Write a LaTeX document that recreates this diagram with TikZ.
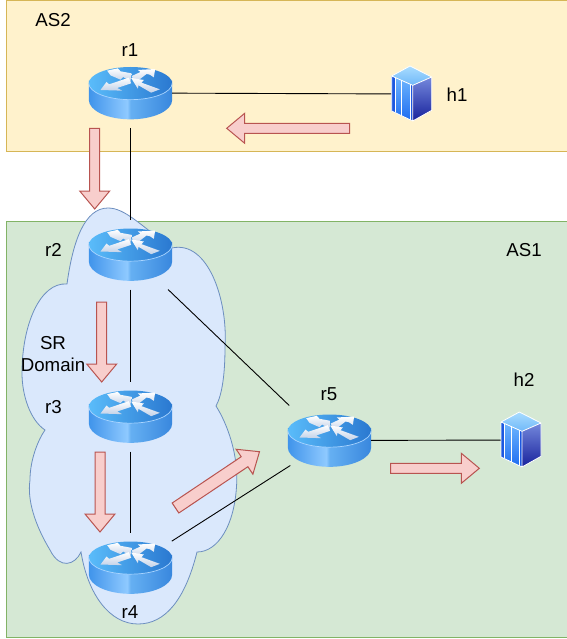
\documentclass[tikz,border=0pt]{standalone}
\usepackage{fontspec}
\usetikzlibrary{calc}
\setmainfont{Liberation Sans}
\definecolor{asyellow}{HTML}{FFF2CC}
\definecolor{asyellowl}{HTML}{D6B656}
\definecolor{asgreen}{HTML}{D5E8D4}
\definecolor{asgreenl}{HTML}{82B366}
\definecolor{cloudf}{HTML}{DAE8FC}
\definecolor{cloudl}{HTML}{6C8EBF}
\definecolor{arrf}{HTML}{F8CECC}
\definecolor{arrl}{HTML}{B85450}
\definecolor{rtopl}{HTML}{5ABCFA}
\definecolor{rtopr}{HTML}{2A78D0}
\definecolor{rrim}{HTML}{A8D4FF}
\definecolor{warrb}{HTML}{C4D2E8}
\definecolor{stop}{HTML}{A8DCFF}
\definecolor{sbot}{HTML}{70B8F8}
\definecolor{sltop}{HTML}{70B8FF}
\definecolor{slbot}{HTML}{1E6CF0}
\definecolor{srtop}{HTML}{7488DC}
\definecolor{srbot}{HTML}{18229C}
\definecolor{sdark}{HTML}{1C58E0}
\pgfdeclarehorizontalshading{routerside}{100bp}{rgb(0bp)=(0.25,0.58,0.92); rgb(25bp)=(0.25,0.58,0.92); rgb(48bp)=(0.56,0.79,1); rgb(50bp)=(0.40,0.69,0.95); rgb(75bp)=(0.22,0.53,0.87); rgb(100bp)=(0.22,0.53,0.87)}
\tikzset{
  x=1pt,y=-1pt,
  box/.style={line width=1pt},
  label/.style={font=\fontsize{18.7}{22}\selectfont,text=black,inner sep=0pt,align=center},
  link/.style={line width=0.9pt,black},
  routerbox/.style={minimum width=83pt,minimum height=70pt,inner sep=0pt,outer sep=0pt},
  serverbox/.style={minimum width=41pt,minimum height=56pt,inner sep=0pt,outer sep=0pt},
  bigarrow/.style={fill=arrf,draw=arrl,line width=1pt,line join=miter},
  warr/.style={top color=white,bottom color=warrb,draw=none},
  pics/routericon/.style={code={
    \begin{scope}[shift={(-70,-43)},scale=1/3]
      \path[shading=routerside] (85,92) -- (85,150) arc[start angle=180,end angle=0,x radius=125,y radius=58] -- (335,92) -- cycle;
      \path[left color=rtopl,right color=rtopr] (210,100) ellipse[x radius=125,y radius=49];
      \draw[rrim,line width=0.7pt] (85,100) arc[start angle=180,end angle=0,x radius=125,y radius=49];
      \path[warr] (140,62)--(172,55)--(180,64)--(213,70)--(210,94)--(188,81)--(180,89)--(150,76)--cycle;
      \path[warr] (120,120)--(138,96)--(146,103)--(205,83)--(212,100)--(170,114)--(185,122)--cycle;
      \path[warr] (214,78)--(240,66)--(232,60)--(284,57)--(280,82)--(268,74)--(258,72)--(222,100)--cycle;
      \path[warr] (212,84)--(250,90)--(243,98)--(298,118)--(272,128)--(234,106)--(232,116)--cycle;
    \end{scope}}},
  pics/servericon/.style={code={
    \begin{scope}[shift={(-41.67,-43)},scale=1/3]
      \path[top color=stop,bottom color=sbot] (120,45)--(185,78)--(128,103)--(65,75)--cycle;
      \path[top color=sltop,bottom color=slbot] (65,75)--(128,103)--(128,210)--(65,180)--cycle;
      \path[fill=sdark] (65,75)--(75,80)--(75,184)--(65,180)--cycle (120,100)--(128,103)--(128,210)--(120,206)--cycle;
      \path[top color=srtop,bottom color=srbot] (128,103)--(185,78)--(185,178)--(128,210)--cycle;
      \draw[white,line width=0.8pt,line join=round] (120,45)--(185,78)--(185,178)--(128,210)--(65,180)--(65,75)--cycle (65,75)--(128,103)--(128,210) (185,78)--(128,103);
      \draw[white,line width=0.8pt] (75,80)--(75,184) (95,88)--(95,194) (120,100)--(120,206);
    \end{scope}}},
}
\newcommand{\routerat}[2]{\node[routerbox] (#1) at (#2) {}; \pic at (#2) {routericon};}
\newcommand{\serverat}[2]{\node[serverbox] (#1) at (#2) {}; \pic at (#2) {servericon};}
% tail, tip, half shaft, half head, head length
\newcommand{\blockarrow}[5]{%
  \path let \p1=(#1),\p2=(#2),\n1={atan2(\y2-\y1,\x2-\x1)},\n2={veclen(\x2-\x1,\y2-\y1)} in
  [bigarrow,shift={(\x1,\y1)},rotate=\n1]
  (0pt,-#3pt)--({\n2-#5pt},-#3pt)--({\n2-#5pt},-#4pt)--(\n2,0pt)--({\n2-#5pt},#4pt)--({\n2-#5pt},#3pt)--(0pt,#3pt)--cycle;}
\begin{document}
\begin{tikzpicture}
\useasboundingbox (0,0) rectangle (566,639);
\draw[box,fill=asyellow,draw=asyellowl] (6.5,0.5) rectangle (570,151.5);
\draw[box,fill=asgreen,draw=asgreenl] (6.5,221.5) rectangle (570,637.5);
\draw[fill=cloudf,draw=cloudl,line width=0.8pt]
  (67,284) .. controls (73,240) and (85,208) .. (108,208)
  .. controls (125,208) and (140,225) .. (172,248)
  .. controls (208,240) and (228,300) .. (225,347)
  .. controls (225,375) and (222,395) .. (216,406)
  .. controls (228,425) and (238,455) .. (236.7,483)
  .. controls (235,525) and (218,552) .. (197,552)
  .. controls (185,600) and (165,624) .. (138,624)
  .. controls (110,624) and (88,595) .. (81,552)
  .. controls (75,565) and (60,570) .. (50,550)
  .. controls (35,525) and (27,500) .. (30,480)
  .. controls (30,460) and (38,440) .. (45,430)
  .. controls (30,420) and (22,395) .. (22,373)
  .. controls (22,325) and (40,282) .. (67,284) -- cycle;
\routerat{r1}{130.5,93}
\routerat{r2}{130.5,254.5}
\routerat{r3}{130.5,416.5}
\routerat{r4}{130.5,567.5}
\routerat{r5}{329.5,440.5}
\serverat{h1}{411.7,94}
\serverat{h2}{521,440}
\draw[link] (r1) -- (h1);
\draw[link] (r1) -- (r2);
\draw[link] (r2) -- (r3);
\draw[link] (r3) -- (r4);
\draw[link] (r2.-43) -- (r5.139);
\draw[link,shorten <=49pt,shorten >=46.5pt] (r4.center) -- (r5.center);
\draw[link] (r5) -- (h2);
\coordinate (a1s) at (349.5,128.3); \coordinate (a1e) at (226.7,128.3);
\coordinate (a2s) at (94.7,128.3); \coordinate (a2e) at (94.7,209);
\coordinate (a3s) at (101.7,302); \coordinate (a3e) at (101.7,382);
\coordinate (a4s) at (100,452); \coordinate (a4e) at (100,532);
\coordinate (a5s) at (175.5,508); \coordinate (a5e) at (259.5,451.7);
\coordinate (a6s) at (390.7,468.3); \coordinate (a6e) at (479.3,468.3);
\blockarrow{a1s}{a1e}{5}{15}{18}
\blockarrow{a2s}{a2e}{5}{15}{18}
\blockarrow{a3s}{a3e}{5}{15}{18}
\blockarrow{a4s}{a4e}{5}{15}{18}
\blockarrow{a5s}{a5e}{6}{15}{18}
\blockarrow{a6s}{a6e}{5}{15}{18}
\node[label] (las2) at (53,20) {AS2};
\node[label] (lr1) at (130,50) {r1};
\node[label] (lh1) at (457,94.5) {h1};
\node[label] (lr2) at (53.5,250) {r2};
\node[label] (las1) at (524,250) {AS1};
\node[label] (lsr) at (53,354) {SR\\Domain};
\node[label] (lr3) at (53.5,407) {r3};
\node[label] (lr4) at (130,612) {r4};
\node[label] (lr5) at (329,394) {r5};
\node[label] (lh2) at (524,380) {h2};
\end{tikzpicture}
\end{document}
